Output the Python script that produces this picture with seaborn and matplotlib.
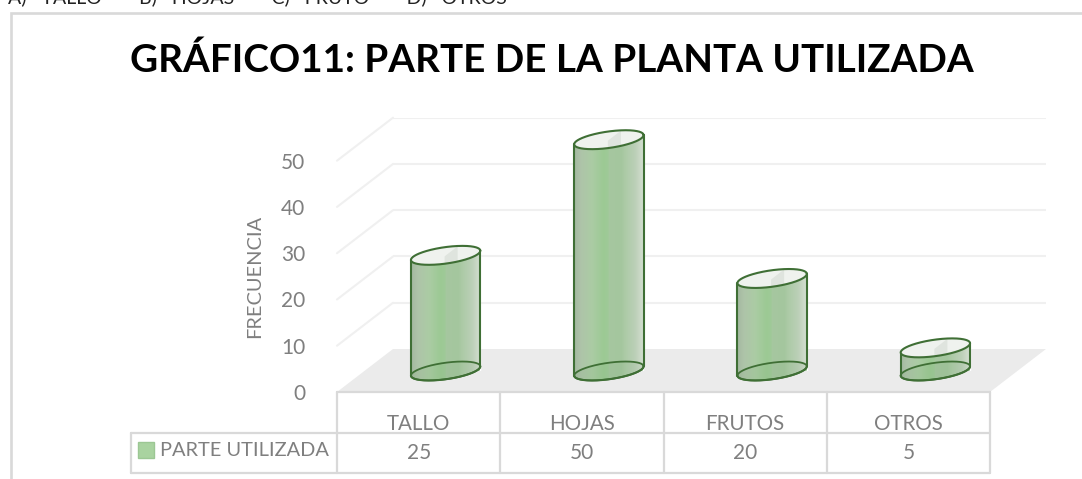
import numpy as np
import pandas as pd
import matplotlib
matplotlib.use("Agg")
import matplotlib.pyplot as plt
from matplotlib.colors import LinearSegmentedColormap
from matplotlib.patches import Polygon, Rectangle
import seaborn as sns

categories = ["TALLO", "HOJAS", "FRUTOS", "OTROS"]
values = [25, 50, 20, 5]
series_name = "PARTE UTILIZADA"
y_ticks = [0, 10, 20, 30, 40, 50]
title = "GRÁFICO11: PARTE DE LA PLANTA UTILIZADA"
y_label = "FRECUENCIA"
clipped_line = "A)   TALLO   -   B)   HOJAS   -   C)   FRUTO   -   D)   OTROS"

W, H = 1082, 479
sns.set_theme(style="white")
plt.rcParams["font.family"] = ["Lato", "DejaVu Sans"]
GREY = "#7f7f7f"
LINE = "#d9d9d9"
EDGE = "#3f6f35"

fig = plt.figure(figsize=(W / 100, H / 100), dpi=100, facecolor="white")


def make_axes(left, top, right, bottom, z):
    a = fig.add_axes([left / W, 1 - bottom / H, (right - left) / W, (bottom - top) / H])
    a.set_zorder(z)
    a.patch.set_alpha(0)
    sns.despine(ax=a, left=True, bottom=True)
    return a


# full-figure furniture layer, in pixels
ax_px = make_axes(0, 0, W, H, 0)
ax_px.set_xlim(0, W)
ax_px.set_ylim(H, 0)
ax_px.axis("off")

# plot area: front wall, back wall (depth offset) and bar plane
X0, X1, Y0, Y50 = 337, 990, 392, 160.7
ax_back = make_axes(X0 + 56, Y50 - 43, X1 + 56, Y0 - 43, 1)
ax_main = make_axes(X0, Y50, X1, Y0, 2)
ax_bars = make_axes(X0 + 27, Y50 - 21, X1 + 27, Y0 - 21, 3)
for a in (ax_back, ax_main, ax_bars):
    a.set_xlim(-0.5, 3.5)
    a.set_ylim(0, 50)

ax_top = make_axes(0, 0, W, H, 4)
ax_top.set_xlim(0, W)
ax_top.set_ylim(H, 0)
ax_top.axis("off")

# chart frame
ax_px.plot([11, 11, W], [H, 12.5, 12.5], color=LINE, lw=1.9, solid_joinstyle="miter")

# clipped line of text above the frame
ax_px.text(8, 3, clipped_line, fontsize=14, color="#222222", ha="left", va="baseline", clip_on=True)

# title
ax_px.text(552, 60.5, title, fontsize=27.8, fontweight="bold", color="black", ha="center", va="center")

# floor
ax_px.add_patch(Polygon([[X0, Y0], [X0 + 56, Y0 - 43], [X1 + 56, Y0 - 43], [X1, Y0]],
                        closed=True, facecolor="#ebebeb", edgecolor="none"))

# back gridlines
ax_back.set_yticks(y_ticks)
ax_back.set_xticks([])
ax_back.tick_params(left=False, labelleft=False)
ax_back.grid(False)
for v in y_ticks[1:]:
    ax_back.axhline(v, color="#f0f0f0", lw=1.5, zorder=1)
    p_front = ax_main.transData.transform((-0.5, v))
    p_back = ax_back.transData.transform((-0.5, v))
    ax_px.plot([p_front[0], p_back[0]], [H - p_front[1], H - p_back[1]], color="#f0f0f0", lw=1.5)

# axis labels through the front plane
ax_main.set_yticks(y_ticks)
ax_main.set_yticklabels([str(v) for v in y_ticks], fontsize=15, color=GREY)
ax_main.tick_params(axis="y", left=False, pad=17)
ax_main.set_xticks(range(len(categories)))
ax_main.set_xticklabels(categories, fontsize=14.8, color=GREY)
ax_main.tick_params(axis="x", bottom=False, pad=10)
ax_main.grid(False)
ax_main.set_ylabel(y_label, fontsize=14.4, color=GREY)
ax_main.yaxis.set_label_coords((263 - X0) / (X1 - X0), (Y0 - 276) / (Y0 - Y50))

# table
col_w = (X1 - X0) / len(categories)
RT, RM, RB = 392, 432.5, 473
for i in range(len(categories) + 1):
    ax_px.plot([X0 + i * col_w] * 2, [RT, RB], color=LINE, lw=1.6)
ax_px.plot([X0, X1], [RT, RT], color=LINE, lw=1.6)
ax_px.plot([131, X1], [RM, RM], color=LINE, lw=1.6)
ax_px.plot([131, X1], [RB, RB], color=LINE, lw=1.6)
ax_px.plot([131, 131], [RM, RB], color=LINE, lw=1.6)
for i, v in enumerate(values):
    ax_px.text(X0 + (i + 0.5) * col_w, 453, str(v), fontsize=15, color=GREY, ha="center", va="center")
ax_px.add_patch(Rectangle((138, 442), 16, 16, facecolor="#a9d3a0", edgecolor="#9cc794", lw=1))
ax_px.text(160, 451, series_name, fontsize=14.4, color=GREY, ha="left", va="center")

# bars through seaborn
df = pd.DataFrame({"categoria": categories, "frecuencia": values})
sns.barplot(data=df, x="categoria", y="frecuencia", order=categories, color="#9fc896",
            width=69 / col_w, saturation=1, ax=ax_bars, zorder=2)
ax_bars.set_xlim(-0.5, 3.5)
ax_bars.set_ylim(0, 50)
ax_bars.set_xlabel("")
ax_bars.set_ylabel("")
ax_bars.set_xticks([])
ax_bars.set_yticks([])

grad = LinearSegmentedColormap.from_list("cyl", [
    (0.00, "#a4b8a0"), (0.10, "#aec4a9"), (0.26, "#abcca4"), (0.42, "#9cc994"), (0.49, "#9fca98"),
    (0.50, "#a6c7a0"), (0.68, "#a4c69e"), (0.72, "#abcaa5"), (0.88, "#bcd0b8"), (1.00, "#d6e0d3")])
strip = np.linspace(0, 1, 256)[None, :]
A, B, THETA = 35.0, 8.2, np.radians(-8)
t = np.linspace(0, 2 * np.pi, 361)


def ellipse(cx, cy):
    return (cx + A * np.cos(t) * np.cos(THETA) - B * np.sin(t) * np.sin(THETA),
            cy + A * np.cos(t) * np.sin(THETA) + B * np.sin(t) * np.cos(THETA))


for bar in ax_bars.patches:
    xa, ya = ax_bars.transData.transform((bar.get_x(), bar.get_y()))
    xb, yb = ax_bars.transData.transform((bar.get_x() + bar.get_width(), bar.get_height()))
    cx = (xa + xb) / 2
    y_low, y_high = H - ya, H - yb
    bx, by = ellipse(cx, y_low)
    tx, ty = ellipse(cx, y_high)
    il, ir = bx.argmin(), bx.argmax()
    lower = np.r_[ir:il + 1] if ir < il else np.r_[ir:361, 0:il + 1]
    jl, jr = tx.argmin(), tx.argmax()
    upper = np.r_[jl:jr + 1] if jl < jr else np.r_[jl:361, 0:jr + 1]
    body = np.column_stack([np.r_[bx[lower], tx[upper]], np.r_[by[lower], ty[upper]]])
    clip = Polygon(body, closed=True, transform=ax_top.transData, facecolor="none", edgecolor="none")
    ax_top.add_patch(clip)
    im = ax_top.imshow(strip, cmap=grad, extent=[cx - A, cx + A, y_low + 12, y_high - 12],
                       aspect="auto", interpolation="bilinear", zorder=3)
    im.set_clip_path(clip)
    ax_top.plot([bx[il], tx[jl]], [by[il], ty[jl]], color=EDGE, lw=1.5, zorder=5)
    ax_top.plot([bx[ir], tx[jr]], [by[ir], ty[jr]], color=EDGE, lw=1.5, zorder=5)
    ax_top.plot(bx[lower], by[lower], color=EDGE, lw=1.5, zorder=5)
    ax_top.fill(bx, by, color="#6f9a66", alpha=0.10, zorder=4, lw=0)
    ax_top.plot(bx, by, color=EDGE, lw=1.3, zorder=5)
    lid = ax_top.fill(tx, ty, color="#eff2ee", zorder=6, lw=0)[0]
    band = Polygon([[cx - 1, y_high + 9], [cx - 1, y_high + 1], [cx + 12, y_high - 9], [cx + 12, y_high + 9]],
                   closed=True, facecolor="#dfe4de", edgecolor="none", zorder=7, transform=ax_top.transData)
    ax_top.add_patch(band)
    band.set_clip_path(lid)
    ax_top.plot(tx, ty, color=EDGE, lw=1.5, zorder=8)

ax_top.set_xlim(0, W)
ax_top.set_ylim(H, 0)
fig.savefig("out.png", dpi=100, facecolor="white")
